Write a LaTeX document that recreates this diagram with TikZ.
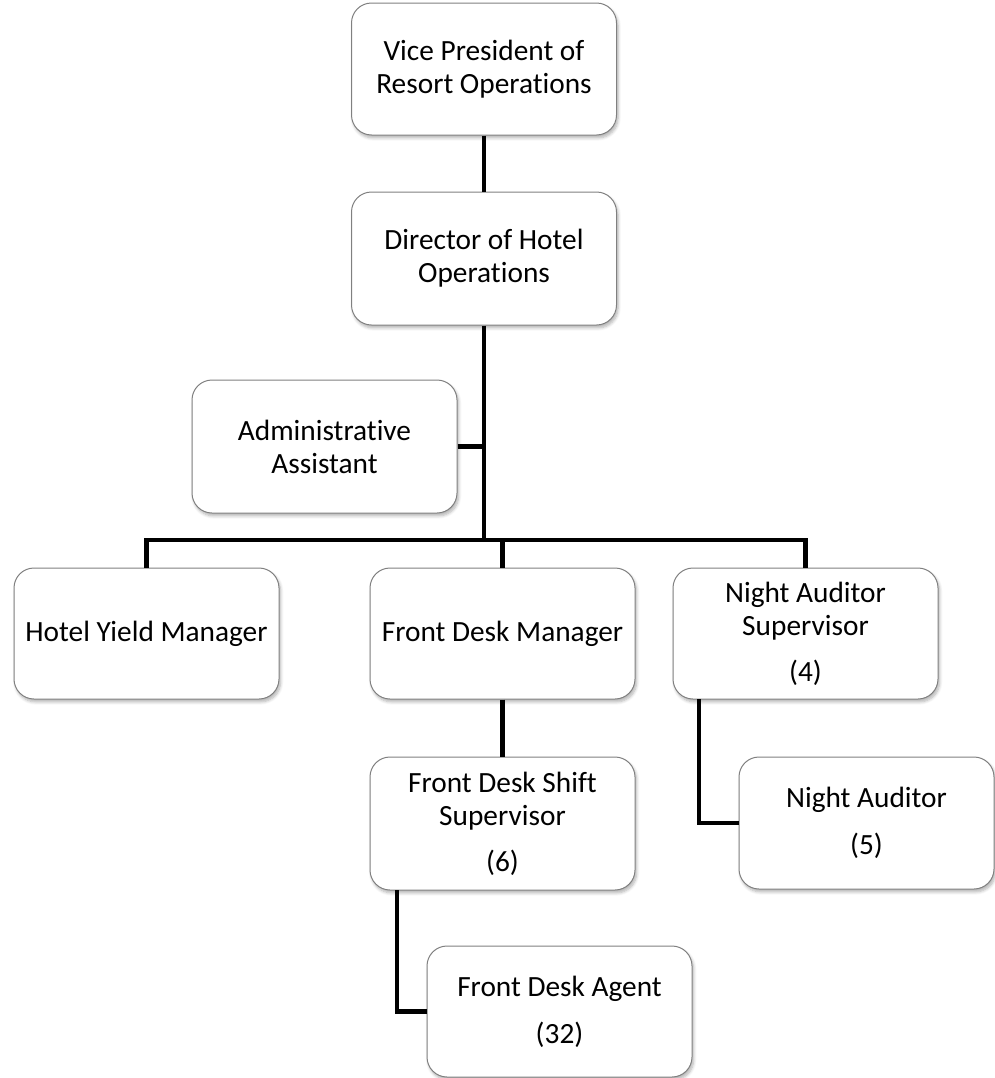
\documentclass[tikz,border=0pt]{standalone}
\usepackage{fontspec}
\setmainfont{Carlito}[Ligatures=NoCommon]
\usetikzlibrary{shadows.blur}
\begin{document}
\begin{tikzpicture}[x=0.75pt,y=-0.75pt,
  box/.style={draw=black!50, line width=0.75pt, fill=white, rounded corners=15pt,
    minimum width=198.75pt, minimum height=99pt, inner sep=0pt, align=center,
    font=\fontsize{22}{24.75}\selectfont,
    blur shadow={shadow xshift=1.2pt, shadow yshift=-2.2pt, shadow blur steps=6, shadow opacity=30, shadow blur radius=2.2pt}},
  conn/.style={line width=3.5pt, black, line join=miter}]
\useasboundingbox (0,0) rectangle (995,1078);
\node[box] (vp) at (484,69) {Vice President of\\Resort Operations};
\node[box, minimum height=99.75pt] (dir) at (484,258.5) {Director of Hotel\\Operations};
\node[box, minimum height=99.75pt] (adm) at (324.5,446.5) {Administrative\\Assistant};
\node[box, minimum height=98.25pt] (hym) at (146.5,633.5) {Hotel Yield Manager};
\node[box, minimum height=98.25pt] (fdm) at (502.5,633.5) {Front Desk Manager};
\node[box, minimum height=98.25pt] (nas) at (805.5,633.5) {Night Auditor\\Supervisor\\[9.75pt](4)};
\node[box, minimum height=99.75pt] (fdss) at (502.5,823.5) {Front Desk Shift\\Supervisor\\[9.75pt](6)};
\node[box, minimum width=191.25pt] (na) at (866.5,823) {Night Auditor\\[10.5pt](5)};
\node[box, minimum height=98.25pt] (agent) at (559.5,1011.5) {Front Desk Agent\\[10.5pt](32)};
\coordinate (bus) at (484,540);
\coordinate (fdssL) at (397,890);
\coordinate (nasL) at (699,699);
\draw[conn] (vp.south) -- (dir.north);
\draw[conn] (dir.south) -- (bus);
\draw[conn] (adm.east) -- (adm.east -| bus);
\draw[conn] (hym.north) |- (bus) -| (nas.north);
\draw[conn] (bus -| fdm.north) -- (fdm.north);
\draw[conn] (fdm.south) -- (fdss.north);
\draw[conn] (fdssL) |- (agent.west);
\draw[conn] (nasL) |- (na.west);
\end{tikzpicture}
\end{document}
